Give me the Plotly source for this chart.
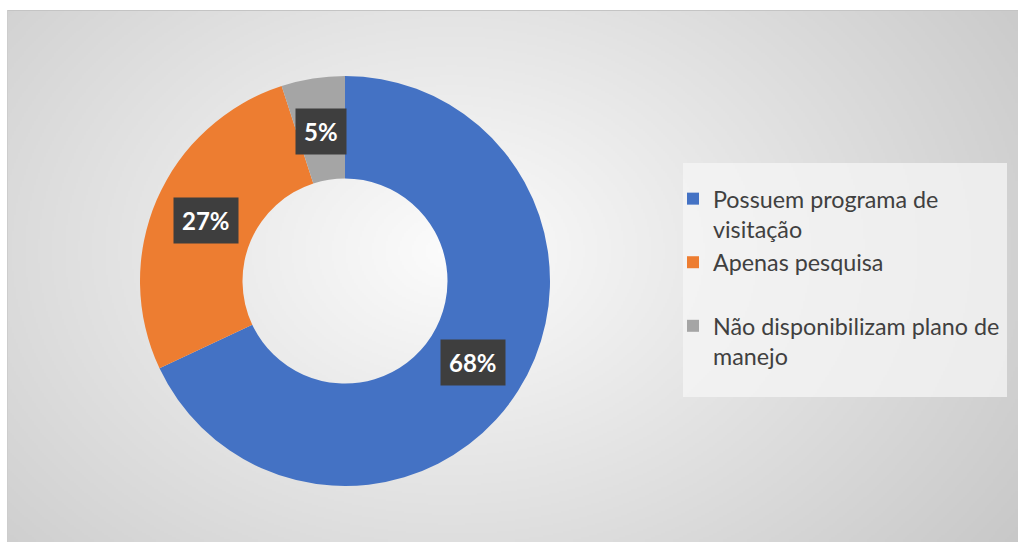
import base64, zlib, struct, math
import numpy as np
import plotly.graph_objects as go

# ---- data ----
labels = ["Possuem programa de<br>visitação", "Apenas pesquisa<br> ", "Não disponibilizam plano de<br>manejo"]
values = [68, 27, 5]
colors = ["#4472C4", "#ED7D31", "#A5A5A5"]

W, H = 1018, 542
FONT = "Lato"

# ---- background radial gradient image ----
def png_data_uri(arr):
    h, w, _ = arr.shape
    raw = b"".join(b"\x00" + arr[i].tobytes() for i in range(h))
    def chunk(t, d):
        c = struct.pack(">I", len(d)) + t + d
        return c + struct.pack(">I", zlib.crc32(t + d) & 0xffffffff)
    png = (b"\x89PNG\r\n\x1a\n"
           + chunk(b"IHDR", struct.pack(">IIBBBBB", w, h, 8, 2, 0, 0, 0))
           + chunk(b"IDAT", zlib.compress(raw, 9))
           + chunk(b"IEND", b""))
    return "data:image/png;base64," + base64.b64encode(png).decode()

bx0, by0 = 7, 10
bw, bh = W - bx0, H - by0
s = 2
gw, gh = bw // s, bh // s
yy, xx = np.mgrid[0:gh, 0:gw]
px = xx * s + bx0
py = yy * s + by0
cxg, cyg, rxg, ryg = 450, 250, 640, 470
d = np.sqrt(((px - cxg) / rxg) ** 2 + ((py - cyg) / ryg) ** 2)
v = np.clip(252 - 48 * d, 150, 255).astype(np.uint8)
img = np.stack([v, v, v], axis=-1)
bg_uri = png_data_uri(img)

# ---- pie geometry ----
dom_x = [140 / W, 550 / W]
dom_y = [56 / H, 466 / H]
hole = 0.5

fig = go.Figure()
fig.add_trace(go.Pie(
    labels=labels,
    values=values,
    marker=dict(colors=colors, line=dict(width=0)),
    hole=hole,
    sort=False,
    direction="clockwise",
    rotation=0,
    textinfo="none",
    hoverinfo="label+percent",
    domain=dict(x=dom_x, y=dom_y),
    showlegend=True,
))

# data labels in dark boxes at the middle of the ring
cx = (dom_x[0] + dom_x[1]) / 2 * W
cy = (dom_y[0] + dom_y[1]) / 2 * H
R = min((dom_x[1] - dom_x[0]) * W, (dom_y[1] - dom_y[0]) * H) / 2
rl = R * (1 + hole) / 2 * 0.985
total = sum(values)
cum = 0
annotations = []
for val in values:
    m = (cum + val / 2) / total
    th = 2 * math.pi * m
    x = (cx + rl * math.sin(th)) / W
    y = (cy + rl * math.cos(th)) / H
    annotations.append(dict(
        x=x, y=y, xref="paper", yref="paper",
        xanchor="center", yanchor="middle",
        text="<b>%d%%</b>" % round(val / total * 100),
        showarrow=False,
        font=dict(family=FONT, size=24, color="white"),
        bgcolor="#3E3E3E",
        borderpad=8,
    ))
    cum += val

shapes = [
    dict(type="rect", xref="paper", yref="paper",
         x0=683 / W, x1=1007 / W, y0=1 - 397 / H, y1=1 - 163 / H,
         fillcolor="rgba(245,245,245,0.75)", line=dict(width=0), layer="below"),
    dict(type="line", xref="paper", yref="paper",
         x0=(bx0 + 0.5) / W, x1=1.0, y0=1 - (by0 + 0.5) / H, y1=1 - (by0 + 0.5) / H,
         line=dict(color="#C4C4C4", width=1), layer="above"),
    dict(type="line", xref="paper", yref="paper",
         x0=(bx0 + 0.5) / W, x1=(bx0 + 0.5) / W, y0=0, y1=1 - (by0 + 0.5) / H,
         line=dict(color="#CDCDCD", width=1), layer="above"),
]

fig.update_layout(
    width=W, height=H,
    margin=dict(l=0, r=0, t=0, b=0),
    paper_bgcolor="white",
    plot_bgcolor="rgba(0,0,0,0)",
    images=[dict(source=bg_uri, xref="paper", yref="paper",
                 x=bx0 / W, y=1 - by0 / H, sizex=bw / W, sizey=bh / H,
                 xanchor="left", yanchor="top", sizing="stretch", layer="below")],
    shapes=shapes,
    annotations=annotations,
    legend=dict(
        x=673 / W, y=1 - 177 / H, xanchor="left", yanchor="top",
        bgcolor="rgba(0,0,0,0)",
        font=dict(family=FONT, size=23.3, color="#404040"),
        valign="top",
        traceorder="normal",
    ),
)

fig.write_html("out.html")
